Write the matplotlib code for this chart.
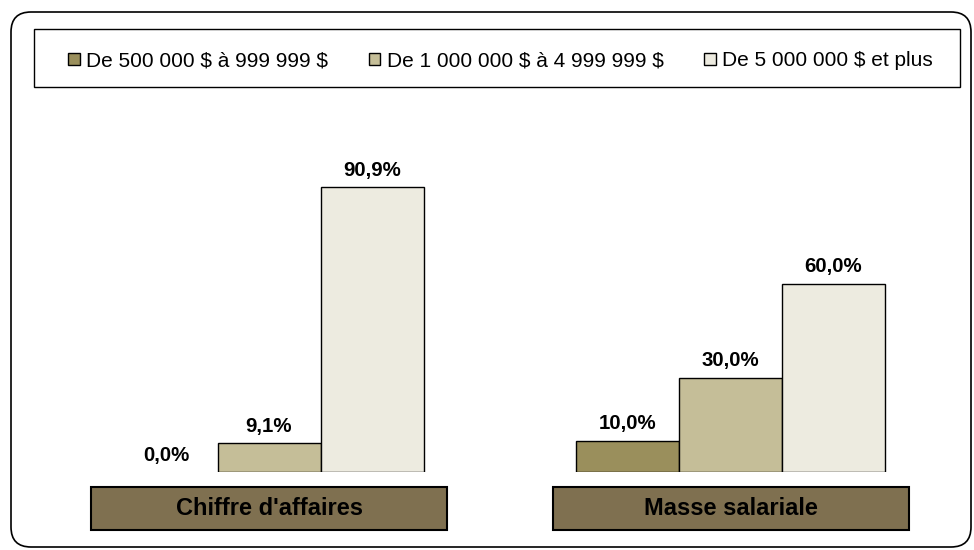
import matplotlib
matplotlib.use("Agg")
import matplotlib.pyplot as plt
from matplotlib.patches import Rectangle, FancyBboxPatch
import matplotlib.transforms as mtransforms
import numpy as np

plt.rcParams['font.family'] = ['Liberation Sans', 'DejaVu Sans']
plt.rcParams['text.parse_math'] = False

categories = ["Chiffre d'affaires", "Masse salariale"]
series_labels = ["De 500 000 $ à 999 999 $",
                 "De 1 000 000 $ à 4 999 999 $",
                 "De 5 000 000 $ et plus"]
s_small = [0.0, 10.0]
s_mid = [9.1, 30.0]
s_large = [90.9, 60.0]
series_values = [s_small, s_mid, s_large]
value_labels = [["0,0%", "10,0%"], ["9,1%", "30,0%"], ["90,9%", "60,0%"]]
colors = ["#9A8F5C", "#C5BE98", "#EDEBE0"]
cat_box_color = "#7F7050"

W, H = 974, 550
fig = plt.figure(figsize=(W / 100, H / 100), dpi=100)

# outer rounded frame
fig.patches.append(FancyBboxPatch((11, 3), 960, 535,
                                  boxstyle="round,pad=0,rounding_size=20",
                                  transform=None, fill=False, edgecolor="black",
                                  linewidth=1.2))
# legend frame
fig.patches.append(Rectangle((34 / W, 1 - 87 / H), 926 / W, 58 / H,
                             transform=fig.transFigure, fill=False,
                             edgecolor="black", linewidth=1.0))

unit = 461.5
ax = fig.add_axes([38.25 / W, 78 / H, 923 / W, 313.5 / H])
ax.set_xlim(-0.5, 1.5)
ax.set_ylim(0, 100)
ax.axis("off")

x = np.arange(len(categories))
w = 103 / unit
bars = []
for i, vals in enumerate(series_values):
    lws = [1.0 if v > 0 else 0.0 for v in vals]
    b = ax.bar(x + (i - 1) * w, vals, width=w, color=colors[i],
               edgecolor="black", linewidth=lws, label=series_labels[i], zorder=2)
    bars.append(b)
    for j, v in enumerate(vals):
        ax.annotate(value_labels[i][j], (x[j] + (i - 1) * w, v),
                    xytext=(0, 17), textcoords="offset pixels",
                    ha="center", va="center", fontsize=14.7, fontweight="bold")

trans = mtransforms.blended_transform_factory(ax.transData, ax.transAxes)
box_w = 356 / unit
for j, c in enumerate(categories):
    ax.add_patch(Rectangle((x[j] - box_w / 2, -(530 - 472) / 313.5), box_w, 43 / 313.5,
                           transform=trans, facecolor=cat_box_color,
                           edgecolor="black", linewidth=1.5, clip_on=False))
    ax.text(x[j], -(508.5 - 472) / 313.5, c, transform=trans, ha="center",
            va="center", fontsize=17, fontweight="bold")

handles = [Rectangle((0, 0), 1, 1, facecolor=colors[i], edgecolor="black",
                     linewidth=1.0) for i in range(3)]
leg = fig.legend(handles=handles, labels=series_labels, loc="center",
                 bbox_to_anchor=(500.5 / W, 1 - 61 / H), ncol=3, frameon=False,
                 fontsize=15, handlelength=0.55, handleheight=0.55,
                 handletextpad=0.3, columnspacing=1.95, borderaxespad=0)

fig.savefig("out.png", dpi=100)
